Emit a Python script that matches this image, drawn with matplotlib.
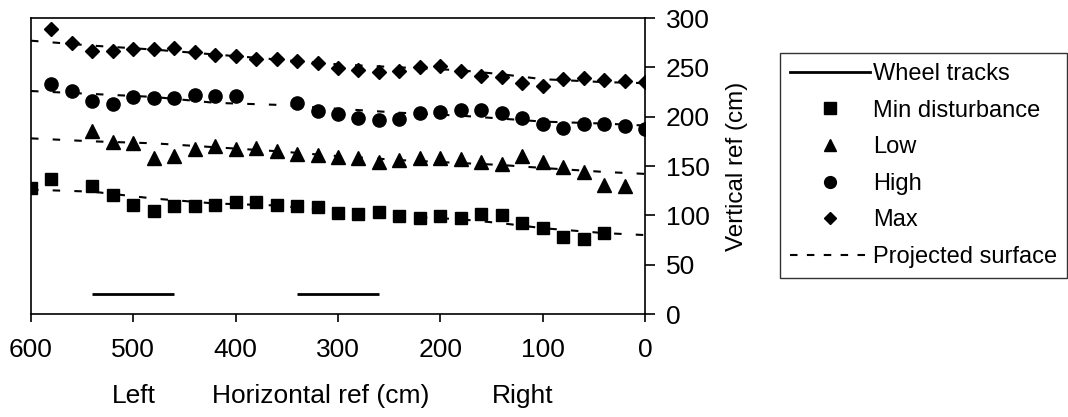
import matplotlib.pyplot as plt

plt.rcParams['font.family'] = ['Liberation Sans', 'DejaVu Sans']

# horizontal positions (cm) for each treatment
x_min = [600, 580, 540, 520, 500, 480, 460, 440, 420, 400, 380, 360, 340, 320,
         300, 280, 260, 240, 220, 200, 180, 160, 140, 120, 100, 80, 60, 40]
y_min = [128, 137, 130, 121, 110, 104, 109, 109, 110, 114, 114, 110, 109, 108,
         102, 101, 103, 99, 97, 99, 97, 101, 100, 92, 87, 78, 76, 82]

x_low = [540, 520, 500, 480, 460, 440, 420, 400, 380, 360, 340, 320, 300, 280,
         260, 240, 220, 200, 180, 160, 140, 120, 100, 80, 60, 40, 20]
y_low = [185, 174, 173, 158, 160, 167, 170, 167, 168, 165, 162, 161, 159, 158,
         154, 156, 158, 158, 157, 154, 152, 160, 154, 149, 144, 131, 130]

x_high = [580, 560, 540, 520, 500, 480, 460, 440, 420, 400, 340, 320, 300, 280,
          260, 240, 220, 200, 180, 160, 140, 120, 100, 80, 60, 40, 20, 0]
y_high = [233, 226, 216, 213, 220, 219, 219, 222, 221, 221, 214, 206, 203, 199,
          197, 198, 204, 205, 207, 207, 204, 199, 193, 189, 193, 193, 191, 188]

x_max = [580, 560, 540, 520, 500, 480, 460, 440, 420, 400, 380, 360, 340, 320,
         300, 280, 260, 240, 220, 200, 180, 160, 140, 120, 100, 80, 60, 40, 20, 0]
y_max = [289, 275, 267, 267, 269, 269, 270, 266, 263, 261, 258, 258, 256, 254,
         249, 247, 245, 246, 250, 251, 246, 241, 240, 234, 231, 238, 239, 237, 236, 235]

# projected surfaces
x_proj = [600, 540, 480, 420, 360, 300, 240, 180, 140, 100, 40, 0]
proj_min = [126, 124, 117, 112, 110, 104, 99, 96, 92, 87, 82, 80]
proj_low = [178, 175, 173, 169, 165, 160, 156, 153, 151, 148, 144, 142]
proj_high = [226, 223, 220, 214, 212, 208, 204, 201, 198, 195, 193, 191]
proj_max = [277, 272, 268, 263, 258, 253, 250, 247, 243, 238, 235, 234]

# wheel tracks
tracks = [(540, 460), (340, 260)]
track_height = 20

fig = plt.figure(figsize=(10.68, 4.17), dpi=100)
ax = fig.add_axes([31 / 1068, 1 - 314 / 417, 614 / 1068, 296 / 417])

dash = (3.6, 6.8)
for py in (proj_min, proj_low, proj_high, proj_max):
    ax.plot(x_proj, py, color='black', lw=1.5, dashes=dash, zorder=2)

for a, b in tracks:
    ax.plot([a, b], [track_height, track_height], color='black', lw=2.0,
            solid_capstyle='butt')

ax.plot(x_min, y_min, 's', color='black', ms=9.2, ls='none', zorder=3)
ax.plot(x_low, y_low, '^', color='black', ms=9.5, ls='none', zorder=3)
ax.plot(x_high, y_high, 'o', color='black', ms=9.5, ls='none', zorder=3)
ax.plot(x_max, y_max, 'D', color='black', ms=6.8, ls='none', zorder=3)

ax.set_xlim(600, 0)
ax.set_ylim(0, 300)
ax.set_xticks([600, 500, 400, 300, 200, 100, 0])
ax.set_yticks([0, 50, 100, 150, 200, 250, 300])
ax.yaxis.tick_right()
ax.yaxis.set_label_position('right')
ax.tick_params(axis='both', direction='out', width=1.2,
               labelsize=19, colors='black')
ax.tick_params(axis='x', length=6, pad=11)
ax.tick_params(axis='y', length=7, pad=8)
for s in ax.spines.values():
    s.set_linewidth(1.2)
ax.set_ylabel('Vertical ref (cm)', fontsize=17.5, labelpad=12)

fig.text(134 / 1068, 1 - 396 / 417, 'Left', fontsize=19, ha='center', va='center')
fig.text(321 / 1068, 1 - 396 / 417, 'Horizontal ref (cm)', fontsize=19,
         ha='center', va='center')
fig.text(523 / 1068, 1 - 396 / 417, 'Right', fontsize=19, ha='center', va='center')

# legend entries
h_track, = ax.plot([], [], color='black', lw=2.0)
h_min, = ax.plot([], [], 's', color='black', ms=8)
h_low, = ax.plot([], [], '^', color='black', ms=8)
h_high, = ax.plot([], [], 'o', color='black', ms=8.5)
h_max, = ax.plot([], [], 'D', color='black', ms=6)
h_proj, = ax.plot([], [], color='black', lw=1.5, dashes=(3.6, 4.5))
leg = fig.legend([h_track, h_min, h_low, h_high, h_max, h_proj],
                 ['Wheel tracks', 'Min disturbance', 'Low', 'High', 'Max',
                  'Projected surface'],
                 loc='upper left', bbox_to_anchor=(780 / 1068, 1 - 53 / 417),
                 fontsize=17, frameon=True, fancybox=False, edgecolor='black',
                 handlelength=3.4, handletextpad=0.12, labelspacing=0.62,
                 borderpad=0.42, borderaxespad=0)
leg.get_frame().set_linewidth(1.0)

fig.savefig('out.png', dpi=100)
